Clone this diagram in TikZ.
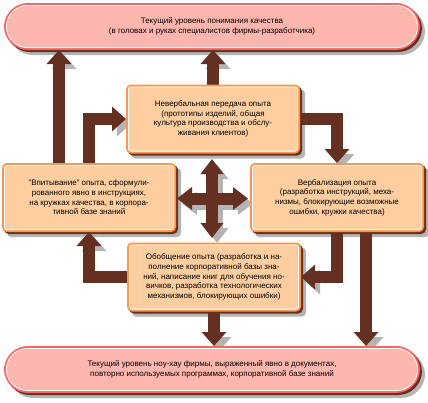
\documentclass[tikz,border=0pt]{standalone}
\usepackage{fontspec}
\setmainfont{Liberation Sans}
\usetikzlibrary{arrows.meta,shadows}

\definecolor{flowbrown}{RGB}{99,48,33}
\definecolor{shadegrey}{RGB}{180,180,180}
\definecolor{stagefill}{RGB}{255,206,160}
\definecolor{stageedge}{RGB}{255,150,80}
\definecolor{levelfill}{RGB}{255,182,174}
\definecolor{leveledge}{RGB}{255,98,98}

\pgfdeclarelayer{shade}
\pgfdeclarelayer{flows}
\pgfsetlayers{shade,flows,main}

\begin{document}
\begin{tikzpicture}[
  x=1pt, y=-1pt,
  line join=miter,
  font=\fontsize{8}{9.7}\selectfont,
  stage/.style={
    rectangle,
    rounded corners=4pt,
    fill=stagefill,
    draw=stageedge,
    line width=2pt,
    inner sep=0pt,
    align=center,
    minimum width=172pt,
    minimum height=67pt,
    general shadow={fill=flowbrown,draw=flowbrown,line width=2pt,
      shadow xshift=2pt,shadow yshift=-2pt}
  },
  level/.style={
    rectangle,
    rounded corners=23pt,
    fill=levelfill,
    draw=leveledge,
    line width=2pt,
    inner sep=0pt,
    align=center,
    minimum width=414pt,
    minimum height=45pt,
    general shadow={fill=flowbrown,draw=flowbrown,line width=2pt,
      shadow xshift=2pt,shadow yshift=-2pt}
  },
  inset/.style={draw=white,line width=0.8pt},
  flow/.style={
    draw=flowbrown,
    line width=12pt,
    -{Triangle[width=24pt,length=14pt]},
    preaction={draw=shadegrey,transform canvas={shift={(5pt,-5pt)}}}
  },
  hubflow/.style={
    draw=flowbrown,
    line width=12pt,
    {Triangle[width=22pt,length=15pt]}-{Triangle[width=22pt,length=15pt]}
  }
]
\useasboundingbox (0,0) rectangle (428,402);

% the two levels of knowledge
\node[level] (toppill) at (212,26.5)
  {Текущий уровень понимания качества\\(в головах и руках специалистов фирмы-разработчика)};
\node[level] (botpill) at (212,369.5)
  {Текущий уровень ноу-хау фирмы, выраженный явно в документах,\\повторно используемых программах, корпоративной базе знаний};

% the four stages of the cycle
\node[stage] (tbox) at (213,119)
  {Невербальная передача опыта\\(прототипы изделий, общая\\культура производства и обслу-\\живания клиентов)};
\node[stage] (lbox) at (89,197.5)
  {"Впитывание" опыта, сформули-\\рованного явно в инструкциях,\\на кружках качества, в корпора-\\тивной базе знаний};
\node[stage] (rbox) at (337,197.5)
  {Вербализация опыта\\(разработка инструкций, меха-\\низмы, блокирующие возможные\\ошибки, кружки качества)};
\node[stage] (bbox) at (214,277)
  {Обобщение опыта (разработка и на-\\полнение корпоративной базы зна-\\ний, написание книг для обучения но-\\вичков, разработка технологических\\механизмов, блокирующих ошибки)};

\foreach \n in {tbox,lbox,rbox,bbox}
  \draw[inset,rounded corners=2.5pt] ([shift={(2.4pt,-2.4pt)}]\n.north west)
    rectangle ([shift={(-2.4pt,2.4pt)}]\n.south east);
\foreach \n in {toppill,botpill}
  \draw[inset,rounded corners=21pt] ([shift={(2.4pt,-2.4pt)}]\n.north west)
    rectangle ([shift={(-2.4pt,2.4pt)}]\n.south east);

% grey drop shadows
\begin{pgfonlayer}{shade}
  \foreach \n in {tbox,lbox,rbox,bbox}
    \fill[shadegrey,rounded corners=4pt] ([shift={(5pt,-5pt)}]\n.north west)
      rectangle ([shift={(5pt,-5pt)}]\n.south east);
  \foreach \n in {toppill,botpill}
    \fill[shadegrey,rounded corners=24pt] ([shift={(5pt,-5pt)}]\n.north west)
      rectangle ([shift={(5pt,-5pt)}]\n.south east);
\end{pgfonlayer}

% flows between the stages
\coordinate (hubN) at (212,159);
\coordinate (hubS) at (212,238);
\coordinate (hubW) at (177,198.5);
\coordinate (hubE) at (248,198.5);

\begin{pgfonlayer}{flows}
  \draw[flow] (59,0 |- lbox.north) -- (59,0 |- toppill.south);
  \draw[flow] (lbox.north) |- (tbox.west);
  \draw[flow] (tbox.north) -- (tbox.north |- toppill.south);
  \draw[flow] (tbox.east) -| (rbox.north);
  \draw[flow] (rbox.south) |- (bbox.east);
  \draw[flow] (366,0 |- rbox.south) -- (366,0 |- botpill.north);
  \draw[flow] (bbox.south) -- (bbox.south |- botpill.north);
  \draw[flow] (bbox.west) -| (lbox.south);

  \foreach \a/\b in {hubN/hubS,hubW/hubE}
    \draw[hubflow,draw=shadegrey,transform canvas={shift={(5pt,-5pt)}}] (\a) -- (\b);
  \foreach \a/\b in {hubN/hubS,hubW/hubE}
    \draw[hubflow] (\a) -- (\b);
\end{pgfonlayer}

\end{tikzpicture}
\end{document}
